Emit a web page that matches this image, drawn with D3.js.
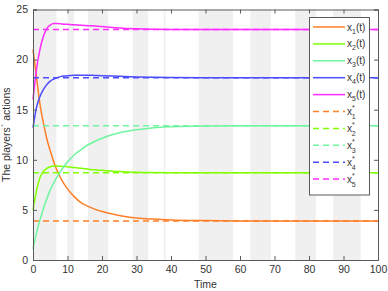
<!DOCTYPE html>
<html>
<head>
<meta charset="utf-8">
<script src="https://cdn.jsdelivr.net/npm/d3@7"></script>
<style>
  body { margin: 0; background: #fff; }
  svg { display: block; font-family: "Liberation Sans", Arial, sans-serif; }
</style>
</head>
<body>
<div id="chart"></div>
<script>
// time samples and player trajectories
var timeGrid = [0, 1, 2, 3, 4, 5, 6, 7, 8, 9, 10, 12, 14, 16, 18, 20, 25, 30, 35, 40, 50, 60, 70, 80, 90, 100];
var x1 = [21.0, 18.3, 15.6, 13.7, 12.1, 10.9, 9.8, 8.9, 8.2, 7.6, 7.1, 6.3, 5.7, 5.35, 5.05, 4.85, 4.45, 4.2, 4.08, 4.0, 3.93, 3.9, 3.9, 3.9, 3.9, 3.9];
var x2 = [5.0, 6.9, 8.2, 8.85, 9.15, 9.3, 9.37, 9.38, 9.36, 9.33, 9.3, 9.22, 9.15, 9.07, 9.0, 8.95, 8.83, 8.76, 8.73, 8.71, 8.7, 8.7, 8.7, 8.7, 8.7, 8.7];
var x3 = [1.1, 2.7, 4.0, 5.1, 6.1, 7.0, 7.7, 8.3, 8.85, 9.35, 9.8, 10.5, 11.05, 11.5, 11.85, 12.15, 12.7, 13.0, 13.2, 13.3, 13.38, 13.4, 13.4, 13.4, 13.4, 13.4];
var x4 = [13.2, 15.2, 16.3, 17.0, 17.5, 17.85, 18.05, 18.2, 18.3, 18.36, 18.4, 18.44, 18.45, 18.44, 18.42, 18.4, 18.33, 18.27, 18.23, 18.21, 18.2, 18.2, 18.2, 18.2, 18.2, 18.2];
var x5 = [16.0, 19.0, 21.0, 22.3, 23.1, 23.45, 23.6, 23.6, 23.57, 23.54, 23.52, 23.47, 23.42, 23.38, 23.35, 23.3, 23.15, 23.07, 23.03, 23.01, 23.0, 23.0, 23.0, 23.0, 23.0, 23.0];
var equilibrium = [3.9, 8.7, 13.4, 18.2, 23.0];
var seriesColors = ['#ff7f27', '#80ff00', '#70f5a0', '#4c4cff', '#ff2bff'];
// shaded switching intervals [start, end]
var bands = [[0, 6.8], [10, 11.9], [15.9, 21.8], [28.9, 33.4], [37.9, 38.4], [48, 58], [63, 69], [76, 82], [87, 95]];
var xTicks = [0, 10, 20, 30, 40, 50, 60, 70, 80, 90, 100];
var yTicks = [0, 5, 10, 15, 20, 25];

var W = 388, H = 291;
var margin = { top: 9.5, right: 10, bottom: 31, left: 33 };
var iw = W - margin.left - margin.right;
var ih = H - margin.top - margin.bottom;

var svg = d3.select('#chart').append('svg')
  .attr('width', W)
  .attr('height', H);

var g = svg.append('g')
  .attr('transform', 'translate(' + margin.left + ',' + margin.top + ')');

var x = d3.scaleLinear().domain([0, 100]).range([0, iw]);
var y = d3.scaleLinear().domain([0, 25]).range([ih, 0]);

// background bands
g.selectAll('rect.band')
  .data(bands)
  .enter()
  .append('rect')
  .attr('class', 'band')
  .attr('x', function(d) { return x(d[0]); })
  .attr('y', 0)
  .attr('width', function(d) { return x(d[1]) - x(d[0]); })
  .attr('height', ih)
  .attr('fill', '#f0f0f0');

var trajectories = [x1, x2, x3, x4, x5];
var line = d3.line()
  .x(function(d, i) { return x(timeGrid[i]); })
  .y(function(d) { return y(d); })
  .curve(d3.curveMonotoneX);

g.selectAll('path.traj')
  .data(trajectories)
  .enter()
  .append('path')
  .attr('class', 'traj')
  .attr('d', line)
  .attr('fill', 'none')
  .attr('stroke', function(d, i) { return seriesColors[i]; })
  .attr('stroke-width', 1.5);

g.selectAll('line.eq')
  .data(equilibrium)
  .enter()
  .append('line')
  .attr('class', 'eq')
  .attr('x1', x(0))
  .attr('x2', x(100))
  .attr('y1', function(d) { return y(d); })
  .attr('y2', function(d) { return y(d); })
  .attr('stroke', function(d, i) { return seriesColors[i]; })
  .attr('stroke-width', 1.5)
  .attr('stroke-dasharray', '6,4');

// axes, ticks inward, box on all sides
var axisColor = '#5a5a5a';
var textColor = '#333';

var xAxis = g.append('g')
  .attr('transform', 'translate(0,' + ih + ')')
  .call(d3.axisBottom(x).tickValues(xTicks).tickSize(-4).tickPadding(6));
var xTop = g.append('g')
  .call(d3.axisTop(x).tickValues(xTicks).tickSize(-4).tickFormat(''));
var yAxis = g.append('g')
  .call(d3.axisLeft(y).tickValues(yTicks).tickSize(-4).tickPadding(5));
var yRight = g.append('g')
  .attr('transform', 'translate(' + iw + ',0)')
  .call(d3.axisRight(y).tickValues(yTicks).tickSize(-4).tickFormat(''));

[xAxis, xTop, yAxis, yRight].forEach(function(a) {
  a.select('.domain').attr('stroke', axisColor).attr('stroke-width', 1);
  a.selectAll('.tick line').attr('stroke', axisColor);
  a.selectAll('text')
    .attr('fill', textColor)
    .style('font-size', '10.5px')
    .style('font-family', '"Liberation Sans", Arial, sans-serif');
});

svg.append('text')
  .attr('x', margin.left + iw / 2)
  .attr('y', 288)
  .attr('text-anchor', 'middle')
  .attr('fill', textColor)
  .style('font-size', '10.5px')
  .text('Time');

svg.append('text')
  .attr('transform', 'translate(10,' + (margin.top + ih / 2) + ') rotate(-90)')
  .attr('text-anchor', 'middle')
  .attr('fill', textColor)
  .style('font-size', '10.5px')
  .text('The players` actions');

// legend
var legend = svg.append('g').attr('transform', 'translate(309.5,17.5)');
legend.append('rect')
  .attr('width', 60)
  .attr('height', 177.5)
  .attr('fill', '#fff')
  .attr('stroke', axisColor)
  .attr('stroke-width', 1);

var legendItems = [];
seriesColors.forEach(function(c, i) { legendItems.push({ color: c, idx: i + 1, star: false }); });
seriesColors.forEach(function(c, i) { legendItems.push({ color: c, idx: i + 1, star: true }); });

var rowH = 16.9;
var rows = legend.selectAll('g.item')
  .data(legendItems)
  .enter()
  .append('g')
  .attr('class', 'item')
  .attr('transform', function(d, i) { return 'translate(0,' + (9.5 + i * rowH) + ')'; });

rows.append('line')
  .attr('x1', 3.5)
  .attr('x2', 35.5)
  .attr('stroke', function(d) { return d.color; })
  .attr('stroke-width', 1.5)
  .attr('stroke-dasharray', function(d) { return d.star ? '6,4' : null; });

var labels = rows.append('text')
  .attr('x', 37.5)
  .attr('y', 3.5)
  .attr('fill', textColor)
  .style('font-size', '10px');

labels.each(function(d) {
  var t = d3.select(this);
  t.append('tspan').text('x');
  if (d.star) {
    t.append('tspan').attr('dy', -5).style('font-size', '7px').text('*');
    t.append('tspan').attr('dx', -3).attr('dy', 9).style('font-size', '7px').text(d.idx);
  } else {
    t.append('tspan').attr('dy', 3).style('font-size', '7px').text(d.idx);
    t.append('tspan').attr('dy', -3).text('(t)');
  }
});
</script>
</body>
</html>
